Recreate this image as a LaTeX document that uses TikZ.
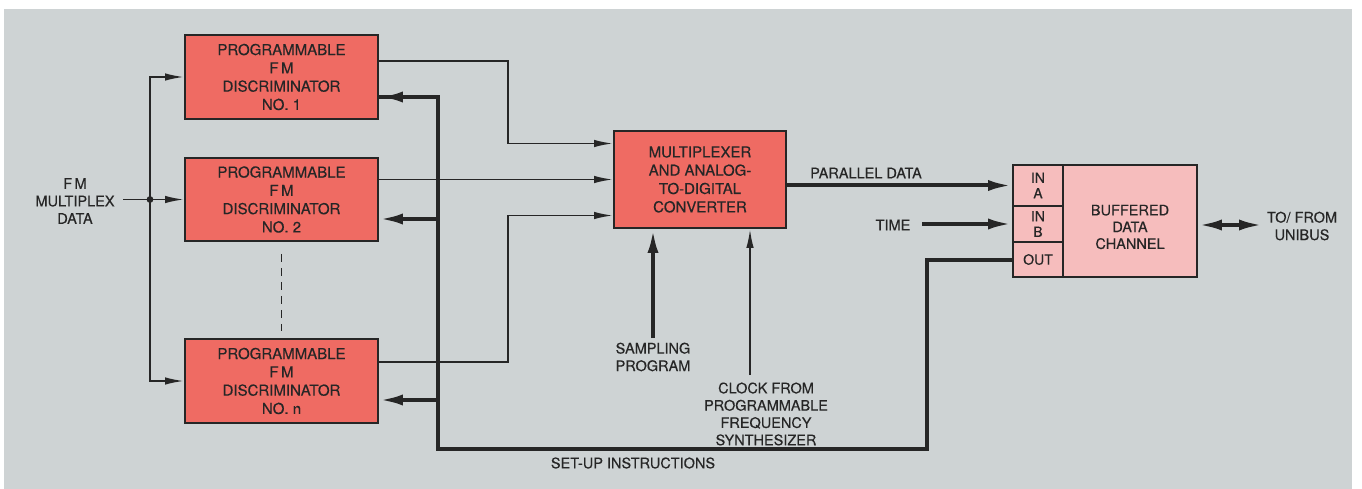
\documentclass[tikz,border=0pt]{standalone}
\usepackage{fontspec}
\setmainfont{TeX Gyre Heros}[FakeBold=0.35]
\usetikzlibrary{arrows.meta,calc}
\definecolor{bgc}{HTML}{CED3D4}
\definecolor{redbox}{HTML}{EF6B63}
\definecolor{pinkbox}{HTML}{F6BDBD}
\definecolor{ink}{HTML}{262626}
\tikzset{
  redblock/.style={draw=ink, line width=1.9pt, fill=redbox, align=center, inner sep=0pt,
    text=ink, font=\fontsize{15}{18.3}\selectfont},
  pinkcell/.style={draw=ink, line width=1.9pt, fill=pinkbox, align=center, inner sep=0pt,
    text=ink, font=\fontsize{14}{15.5}\selectfont},
  lbl/.style={align=center, inner sep=2pt, text=ink, font=\fontsize{14.5}{17.5}\selectfont},
  thinw/.style={draw=ink, line width=1.9pt},
  thickw/.style={draw=ink, line width=4pt},
  thinarr/.style={thinw, -{Latex[length=19pt,width=7.5pt]}},
  thickarr/.style={thickw, -{Latex[length=24pt,width=11pt]}},
  dblarr/.style={thickw, {Latex[length=24pt,width=11pt]}-{Latex[length=24pt,width=11pt]}}
}
\begin{document}
\begin{tikzpicture}[x=1pt,y=-1pt]
\useasboundingbox (0,0) rectangle (1362,489);
\fill[white] (0,0) rectangle (1362,489);
\fill[bgc] (4,9) rectangle (1352,489);

% discriminators
\node[redblock, minimum width=193pt, minimum height=84pt] (d1) at (281.5,77)
  {PROGRAMMABLE\\F\,M\\DISCRIMINATOR\\NO. 1};
\node[redblock, minimum width=193pt, minimum height=83pt] (d2) at (281.5,199.5)
  {PROGRAMMABLE\\F\,M\\DISCRIMINATOR\\NO. 2};
\node[redblock, minimum width=193pt, minimum height=84pt] (dn) at (281.5,381)
  {PROGRAMMABLE\\F\,M\\DISCRIMINATOR\\NO. n};

% multiplexer
\node[redblock, minimum width=172pt, minimum height=97pt] (mux) at (700,179.5)
  {MULTIPLEXER\\AND ANALOG-\\TO-DIGITAL\\CONVERTER};

% buffered data channel
\node[pinkcell, minimum width=134pt, minimum height=112pt] (buf) at (1130,221) {};
\node[lbl, font=\fontsize{14.5}{16.8}\selectfont] (buftxt) at (1130,227) {BUFFERED\\DATA\\CHANNEL};
\node[pinkcell, minimum width=50pt, minimum height=41pt] (ina) at (1038,185.5) {IN\\A};
\node[pinkcell, minimum width=50pt, minimum height=36pt] (inb) at (1038,224) {IN\\B};
\node[pinkcell, minimum width=50pt, minimum height=35pt] (outc) at (1038,259.5) {OUT};

% labels
\node[lbl] (fm) at (75,201) {F\,M\\MULTIPLEX\\DATA};
\node[lbl, anchor=west] (par) at (808,173) {PARALLEL DATA};
\node[lbl] (time) at (893,225) {TIME};
\node[lbl] (unibus) at (1302,226) {TO/ FROM\\UNIBUS};
\node[lbl] (samp) at (653,357) {SAMPLING\\PROGRAM};
\node[lbl, font=\fontsize{14.5}{17.3}\selectfont] (clktxt) at (766,414)
  {CLOCK FROM\\PROGRAMMABLE\\FREQUENCY\\SYNTHESIZER};
\node[lbl] (setup) at (633,463) {SET-UP INSTRUCTIONS};

% coordinates
\coordinate (j) at (150,199.5);
\coordinate (fmend) at (123,199.5);
\coordinate (c1) at (508,143.5);
\coordinate (cn) at (508,215.5);
\coordinate (sbl) at (438,449);
\coordinate (sbr) at (927,449);
\coordinate (clk) at (750,375);
\coordinate (samptop) at (653,338);
\coordinate (timeend) at (922,224);
\coordinate (ubend) at (1263,225);
\coordinate (d1o) at ([yshift=16pt]d1.east);
\coordinate (dno) at ([yshift=19pt]dn.east);
\coordinate (d1s) at ([yshift=-20pt]d1.east);
\coordinate (d2s) at ([yshift=-19.5pt]d2.east);
\coordinate (dns) at ([yshift=-19pt]dn.east);
\coordinate (m1) at ([yshift=36pt]mux.west);
\coordinate (m3) at ([yshift=-36pt]mux.west);

% FM input distribution
\draw[thinw] (fmend) -- (j);
\fill[ink] (j) circle (3.4pt);
\draw[thinarr] (j) -- (d2.west);
\draw[thinarr] (j) |- (d1.west);
\draw[thinarr] (j) |- (dn.west);

% dashed continuation
\draw[thinw, dash pattern=on 8pt off 6pt] ([yshift=-12pt]d2.south) -- ([yshift=7pt]dn.north);

% outputs to multiplexer
\draw[thinarr] (d1o) -| (c1) -- (m1);
\draw[thinarr] (d2.east |- mux.west) -- (mux.west);
\draw[thinarr] (dno) -| (cn) -- (m3);

% set-up instructions bus
\draw[thickw, line join=miter] (outc.west) -| (sbr) -- (sbl) |- (d1s);
\draw[thickarr] (sbl |- d1s) -- (d1s);
\draw[thickarr] (sbl |- d2s) -- (d2s);
\draw[thickarr] (sbl |- dns) -- (dns);

% sampling and clock
\draw[thickarr] (samptop) -- (samptop |- mux.south);
\draw[thinarr] (clk) -- (clk |- mux.south);

% parallel data, time, unibus
\draw[thickarr] (mux.east |- ina.west) -- (ina.west);
\draw[thickarr] (timeend) -- (inb.west);
\draw[dblarr] (buf.east |- ubend) -- (ubend);
\end{tikzpicture}
\end{document}
